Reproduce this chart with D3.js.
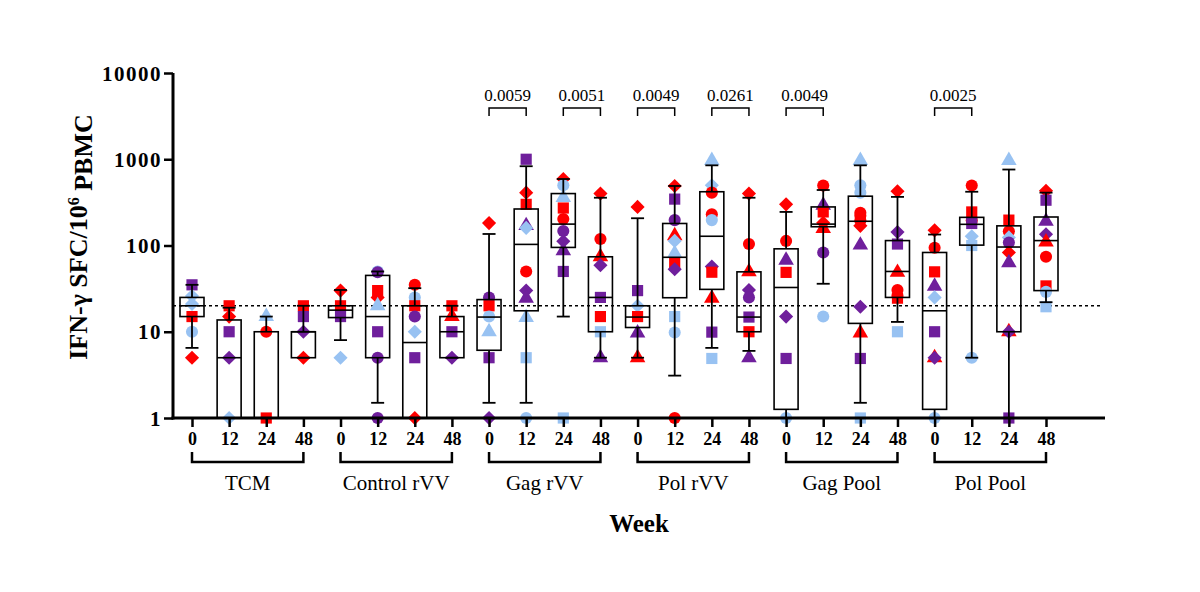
<!DOCTYPE html>
<html>
<head>
<meta charset="utf-8">
<script src="https://cdn.jsdelivr.net/npm/d3@7"></script>
<style>
  html, body { margin: 0; padding: 0; background: #fff; }
  svg { display: block; }
  text { font-family: "Liberation Serif", "Times New Roman", serif; fill: #000; }
</style>
</head>
<body>
<svg id="chart" width="1200" height="592"></svg>
<script>
// ---------- data ----------
const groups = ["TCM", "Control rVV", "Gag rVV", "Pol rVV", "Gag Pool", "Pol Pool"];
const weeks = ["0", "12", "24", "48"];
const yTicks = [1, 10, 100, 1000, 10000];
const threshold = 20;

// box stats per slot (group x week): [whiskerLow, q1, median, q3, whiskerHigh]
const boxStats = [
  [6.5, 15, 20, 25, 35], [1, 1, 5, 13.7, 19], [1, 1, 1, 10, 15], [5, 5, 10, 10, 20],
  [8, 14.6, 17.8, 20, 30.5], [1.5, 5, 15, 45, 50], [1, 1, 7.5, 20, 32], [5, 5, 10, 15, 20],
  [1.5, 6.1, 14.8, 23.6, 136], [1.5, 17.5, 103, 265, 830], [15, 95, 177, 400, 590], [5, 10, 25, 74, 358],
  [5, 11.2, 14.8, 20, 207], [3.1, 24.8, 73, 180, 490], [6.5, 31, 128, 420, 850], [6, 10, 14.8, 49.5, 358],
  [1, 1.26, 32.6, 91.5, 245], [36, 165, 177, 280, 440], [1.5, 12.5, 191, 373, 850], [13, 25, 50, 114, 366],
  [1, 1.26, 17.5, 83, 134], [5, 101, 176, 212, 420], [1, 10, 96, 169, 760], [22, 30, 114, 214, 410]
];

// individual animals: [slot, value, colour key, shape key]
const points = [
  [0,35,"p","s"],[0,26,"b","d"],[0,21,"b","d"],[0,15,"r","s"],[0,10,"b","c"],[0,5,"r","d"],
  [1,20,"r","s"],[1,15,"r","d"],[1,10,"p","s"],[1,5,"p","d"],[1,1,"b","d"],
  [2,15,"b","t"],[2,10,"r","c"],[2,1,"r","s"],
  [3,20,"r","s"],[3,15,"p","s"],[3,10,"p","d"],[3,5,"r","d"],
  [4,30,"r","d"],[4,20,"r","s"],[4,15,"p","s"],[4,5,"b","d"],
  [5,50,"b","c"],[5,49,"p","c"],[5,30,"r","s"],[5,25,"r","d"],[5,20,"b","t"],[5,10,"p","s"],[5,5,"p","c"],[5,1,"p","c"],
  [6,35,"r","c"],[6,25,"b","c"],[6,20,"r","s"],[6,15,"p","c"],[6,10,"b","d"],[6,5,"p","s"],[6,1,"r","d"],
  [7,20,"r","s"],[7,15,"r","t"],[7,10,"p","s"],[7,5,"p","d"],
  [8,182,"r","d"],[8,25,"p","c"],[8,20,"r","s"],[8,15,"b","c"],[8,10,"b","t"],[8,5,"p","s"],[8,1,"p","d"],
  [9,1000,"p","s"],[9,410,"r","d"],[9,300,"r","s"],[9,170,"p","t"],[9,160,"b","d"],[9,50,"r","c"],[9,30,"p","d"],[9,24.5,"p","t"],[9,14.6,"b","t"],[9,5,"b","s"],[9,1,"b","c"],
  [10,590,"r","d"],[10,500,"b","c"],[10,360,"b","t"],[10,272,"r","s"],[10,203,"r","c"],[10,147,"p","c"],[10,112,"p","d"],[10,87,"p","t"],[10,50,"p","s"],[10,1,"b","s"],
  [11,400,"r","d"],[11,119,"r","c"],[11,74,"r","t"],[11,59,"p","d"],[11,25,"p","s"],[11,15,"r","s"],[11,10,"b","s"],[11,5,"p","t"],
  [12,280,"r","d"],[12,30,"p","s"],[12,20,"b","d"],[12,15,"r","s"],[12,9.7,"p","t"],[12,5,"r","t"],
  [13,490,"r","d"],[13,345,"p","s"],[13,197,"p","c"],[13,130,"r","t"],[13,113,"b","d"],[13,81,"b","t"],[13,63,"r","s"],[13,53,"p","d"],[13,15,"b","s"],[13,9.8,"b","c"],[13,1,"r","c"],
  [14,970,"b","t"],[14,500,"b","d"],[14,410,"r","c"],[14,230,"r","c"],[14,197,"b","c"],[14,57,"p","d"],[14,49,"r","s"],[14,24.4,"r","t"],[14,9.9,"p","s"],[14,4.9,"b","s"],
  [15,400,"r","d"],[15,104,"r","c"],[15,49.5,"r","t"],[15,30.5,"p","d"],[15,25,"p","c"],[15,14.8,"p","s"],[15,10,"r","s"],[15,5,"p","t"],
  [16,300,"r","d"],[16,113,"r","c"],[16,67.6,"p","t"],[16,48.8,"r","s"],[16,15,"p","d"],[16,4.9,"p","s"],[16,1,"b","c"],
  [17,495,"r","c"],[17,292,"p","t"],[17,245,"r","s"],[17,183,"r","d"],[17,157,"r","t"],[17,83,"p","c"],[17,15,"b","c"],
  [18,970,"b","t"],[18,500,"b","c"],[18,410,"b","c"],[18,240,"r","c"],[18,222,"r","c"],[18,195,"r","c"],[18,169,"r","d"],[18,101,"p","t"],[18,19.5,"p","d"],[18,9.7,"r","t"],[18,4.9,"p","s"],[18,1,"b","s"],
  [19,425,"r","d"],[19,143,"p","d"],[19,104,"p","s"],[19,48.8,"r","t"],[19,30.5,"r","c"],[19,26,"r","c"],[19,24.5,"r","s"],[19,10,"b","s"],
  [20,150,"r","d"],[20,94,"r","c"],[20,49.5,"r","s"],[20,33.8,"p","t"],[20,25,"b","d"],[20,10,"p","s"],[20,5,"r","t"],[20,5,"p","d"],[20,1,"b","c"],
  [21,495,"r","c"],[21,245,"r","s"],[21,195,"r","c"],[21,180,"p","s"],[21,128,"b","d"],[21,100,"b","s"],[21,5,"b","c"],
  [22,970,"b","t"],[22,197,"r","s"],[22,146,"r","c"],[22,124,"b","d"],[22,108,"p","c"],[22,83,"r","d"],[22,63,"p","t"],[22,10,"r","t"],[22,10,"p","d"],[22,1,"p","s"],
  [23,430,"r","d"],[23,335,"p","s"],[23,191,"p","t"],[23,135,"p","d"],[23,110,"r","t"],[23,74,"r","c"],[23,34,"r","s"],[23,29,"b","c"],[23,19.5,"b","s"]
];

// significance brackets: [slotA, slotB, label]
const pValues = [[8, 9, "0.0059"], [10, 11, "0.0051"], [12, 13, "0.0049"], [14, 15, "0.0261"], [16, 17, "0.0049"], [20, 21, "0.0025"]];

const colours = { r: "#ff0000", p: "#6f1f9c", b: "#98c2f2" };

// ---------- layout ----------
const svg = d3.select("#chart");
const axisX0 = 173, axisX1 = 1105;
const slots = d3.range(groups.length * weeks.length);
const x = d3.scalePoint().domain(slots).range([192, 1046]);
const y = d3.scaleLog().domain([1, 10000]).range([418, 73]);
const boxW = 24, capW = 13;

// threshold dotted line
svg.append("line")
  .attr("x1", axisX0).attr("x2", 1100)
  .attr("y1", y(threshold)).attr("y2", y(threshold))
  .attr("stroke", "#000").attr("stroke-width", 1.4).attr("stroke-dasharray", "3,3");

// points
const symType = { s: d3.symbolSquare, c: d3.symbolCircle, t: d3.symbolTriangle, d: d3.symbolSquare };
const symSize = { s: 125, c: 115, t: 105, d: 100 };
svg.append("g").selectAll("path").data(points).join("path")
  .attr("d", d => d3.symbol().type(symType[d[3]]).size(symSize[d[3]])())
  .attr("transform", d => `translate(${x(d[0])},${y(d[1])})` + (d[3] === "d" ? " rotate(45)" : ""))
  .attr("fill", d => colours[d[2]]);

// boxes
const bg = svg.append("g").attr("stroke", "#000").attr("fill", "none");
boxStats.forEach((s, i) => {
  const cx = x(i);
  const [lo, q1, med, q3, hi] = s;
  const g = bg.append("g");
  g.append("line").attr("x1", cx).attr("x2", cx).attr("y1", y(q3)).attr("y2", y(hi)).attr("stroke-width", 1.8);
  g.append("line").attr("x1", cx).attr("x2", cx).attr("y1", y(q1)).attr("y2", y(lo)).attr("stroke-width", 1.8);
  g.append("line").attr("x1", cx - capW / 2).attr("x2", cx + capW / 2).attr("y1", y(hi)).attr("y2", y(hi)).attr("stroke-width", 1.8);
  g.append("line").attr("x1", cx - capW / 2).attr("x2", cx + capW / 2).attr("y1", y(lo)).attr("y2", y(lo)).attr("stroke-width", 1.8);
  g.append("rect").attr("x", cx - boxW / 2).attr("width", boxW)
    .attr("y", y(q3)).attr("height", y(q1) - y(q3)).attr("stroke-width", 1.6);
  g.append("line").attr("x1", cx - boxW / 2).attr("x2", cx + boxW / 2).attr("y1", y(med)).attr("y2", y(med)).attr("stroke-width", 1.6);
});

// y axis
const yAxis = svg.append("g").attr("transform", `translate(${axisX0},0)`)
  .call(d3.axisLeft(y).tickValues(yTicks).tickFormat(d3.format("d")).tickSize(9).tickPadding(2));
yAxis.select(".domain").attr("stroke-width", 3).attr("d", `M0,${y(10000)}V${y(1) + 1.5}`);
yAxis.selectAll(".tick line").attr("stroke-width", 2.5);
yAxis.selectAll(".tick text")
  .style("font-family", "Liberation Serif, serif").style("font-size", "21px").style("font-weight", "bold")
  .style("letter-spacing", "1.5px").attr("dy", "0.34em");

// x axis
const xAxis = svg.append("g").attr("transform", `translate(0,${y(1)})`)
  .call(d3.axisBottom(x).tickFormat(i => weeks[i % weeks.length]).tickSize(9).tickPadding(5));
xAxis.select(".domain").attr("stroke-width", 3).attr("d", `M${axisX0 - 1.5},0H${axisX1}`);
xAxis.selectAll(".tick line").attr("stroke-width", 2.5);
xAxis.selectAll(".tick text")
  .style("font-family", "Liberation Serif, serif").style("font-size", "18px").style("font-weight", "bold");

// group brackets + labels
groups.forEach((name, gi) => {
  const xa = x(gi * 4), xb = x(gi * 4 + 3);
  svg.append("path")
    .attr("d", `M${xa},452V462H${xb}V452`)
    .attr("fill", "none").attr("stroke", "#000").attr("stroke-width", 2.5);
  svg.append("text").attr("x", (xa + xb) / 2).attr("y", 490)
    .attr("text-anchor", "middle").style("font-size", "21px").text(name);
});

// p-value brackets
pValues.forEach(([a, b, label]) => {
  svg.append("path")
    .attr("d", `M${x(a)},116V108H${x(b)}V116`)
    .attr("fill", "none").attr("stroke", "#000").attr("stroke-width", 1.5);
  svg.append("text").attr("x", (x(a) + x(b)) / 2).attr("y", 101)
    .attr("text-anchor", "middle").style("font-size", "17px").text(label);
});

// axis titles
svg.append("text").attr("x", 639).attr("y", 532).attr("text-anchor", "middle")
  .style("font-size", "25px").style("font-weight", "bold").text("Week");

const yt = svg.append("text")
  .attr("transform", `translate(87,237) rotate(-90)`)
  .attr("text-anchor", "middle")
  .style("font-size", "26px").style("font-weight", "bold");
yt.append("tspan").text("IFN-γ SFC/10");
yt.append("tspan").attr("dy", "-0.5em").style("font-size", "16px").text("6");
yt.append("tspan").attr("dy", "0.5em").text(" PBMC");
</script>
</body>
</html>
